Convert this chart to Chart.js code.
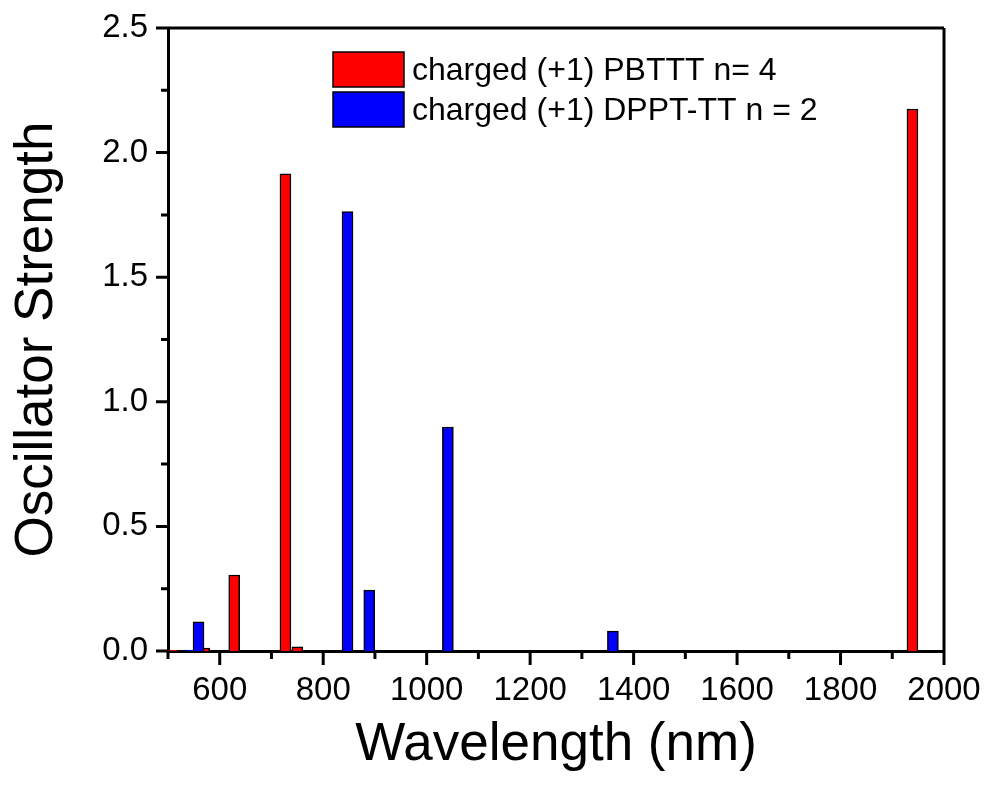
<!DOCTYPE html>
<html>
<head>
<meta charset="utf-8">
<script src="https://cdn.jsdelivr.net/npm/chart.js@4"></script>
<style>
  html, body { margin: 0; padding: 0; background: #fff; }
  #wrap { width: 990px; height: 786px; }
</style>
</head>
<body>
<div id="wrap"><canvas id="spectrumChart" width="990" height="786"></canvas></div>
<script>
// wavelengths (nm) and oscillator strengths
const pbtttLabel = 'charged (+1) PBTTT n= 4';
const pbtttWl = [510, 570, 628, 727, 750, 1939];
const pbtttF = [0.003, 0.012, 0.305, 1.915, 0.017, 2.175];

const dpptLabel = 'charged (+1) DPPT-TT n = 2';
const dpptWl = [542, 559, 847, 889, 1041, 1360];
const dpptF = [0.004, 0.117, 1.763, 0.244, 0.899, 0.080];

const xMajor = [600, 800, 1000, 1200, 1400, 1600, 1800, 2000];
const xMinor = [500, 700, 900, 1100, 1300, 1500, 1700, 1900];
const yMajor = [0, 0.5, 1.0, 1.5, 2.0, 2.5];
const yMinor = [0.25, 0.75, 1.25, 1.75, 2.25];

const FONT = "'Liberation Sans', Arial, sans-serif";

const toPoints = (xs, ys) => xs.map((x, i) => ({ x, y: ys[i] }));

// ticks outside the axes, box frame and the in-plot legend
const framePlugin = {
  id: 'frame',
  afterDraw(chart) {
    const { ctx, chartArea: a, scales: { x, y } } = chart;
    ctx.save();
    ctx.strokeStyle = '#000';
    ctx.lineWidth = 3;
    ctx.beginPath();
    ctx.moveTo(a.left, a.top); ctx.lineTo(a.right, a.top);
    ctx.moveTo(a.right, a.top); ctx.lineTo(a.right, a.bottom);
    xMajor.forEach(v => { const p = x.getPixelForValue(v); ctx.moveTo(p, a.bottom); ctx.lineTo(p, a.bottom + 14); });
    xMinor.forEach(v => { const p = x.getPixelForValue(v); ctx.moveTo(p, a.bottom); ctx.lineTo(p, a.bottom + 8); });
    yMajor.forEach(v => { const p = y.getPixelForValue(v); ctx.moveTo(a.left, p); ctx.lineTo(a.left - 12, p); });
    yMinor.forEach(v => { const p = y.getPixelForValue(v); ctx.moveTo(a.left, p); ctx.lineTo(a.left - 7, p); });
    ctx.stroke();

    // legend
    const items = [
      { label: pbtttLabel, color: '#ff0000' },
      { label: dpptLabel, color: '#0000ff' }
    ];
    ctx.font = '32px ' + FONT;
    ctx.textBaseline = 'middle';
    ctx.lineWidth = 1.5;
    items.forEach((it, i) => {
      const top = 52 + i * 40;
      ctx.fillStyle = it.color;
      ctx.fillRect(333, top, 71, 35);
      ctx.strokeRect(333, top, 71, 35);
      ctx.fillStyle = '#000';
      ctx.fillText(it.label, 412, top + 19);
    });
    ctx.restore();
  }
};

new Chart(document.getElementById('spectrumChart'), {
  type: 'bar',
  data: {
    datasets: [
      {
        label: pbtttLabel,
        data: toPoints(pbtttWl, pbtttF),
        backgroundColor: '#ff0000',
        borderColor: '#000',
        borderWidth: 1.5,
        order: 1
      },
      {
        label: dpptLabel,
        data: toPoints(dpptWl, dpptF),
        backgroundColor: '#0000ff',
        borderColor: '#000',
        borderWidth: 1.5,
        order: 0
      }
    ]
  },
  options: {
    responsive: false,
    animation: false,
    events: [],
    layout: { padding: { top: 28, right: 46, left: 0, bottom: 0 } },
    datasets: { bar: { grouped: false, barThickness: 11 } },
    plugins: { legend: { display: false }, tooltip: { enabled: false } },
    scales: {
      x: {
        type: 'linear',
        offset: false,
        min: 500,
        max: 2000,
        grid: { display: false, drawTicks: false, offset: false },
        border: { display: true, color: '#000', width: 3 },
        ticks: {
          stepSize: 100,
          autoSkip: false,
          maxRotation: 0,
          padding: 20,
          color: '#000',
          font: { family: FONT, size: 33 },
          callback: v => (v % 200 === 0 ? String(v) : null)
        },
        title: {
          display: true,
          text: 'Wavelength (nm)',
          color: '#000',
          font: { family: FONT, size: 53 },
          padding: { top: 8, bottom: 9 }
        },
        afterFit: s => { s.height = 135; s.paddingLeft = 0; s.paddingRight = 0; }
      },
      y: {
        min: 0,
        max: 2.5,
        grid: { display: false, drawTicks: false },
        border: { display: true, color: '#000', width: 3 },
        ticks: {
          stepSize: 0.5,
          padding: 20,
          color: '#000',
          font: { family: FONT, size: 33 },
          callback: v => v.toFixed(1)
        },
        title: {
          display: true,
          text: 'Oscillator Strength',
          color: '#000',
          font: { family: FONT, size: 53 },
          padding: { top: 6, bottom: 0 }
        },
        afterFit: s => { s.width = 168; s.paddingTop = 0; s.paddingBottom = 0; }
      }
    }
  },
  plugins: [framePlugin]
});
</script>
</body>
</html>
